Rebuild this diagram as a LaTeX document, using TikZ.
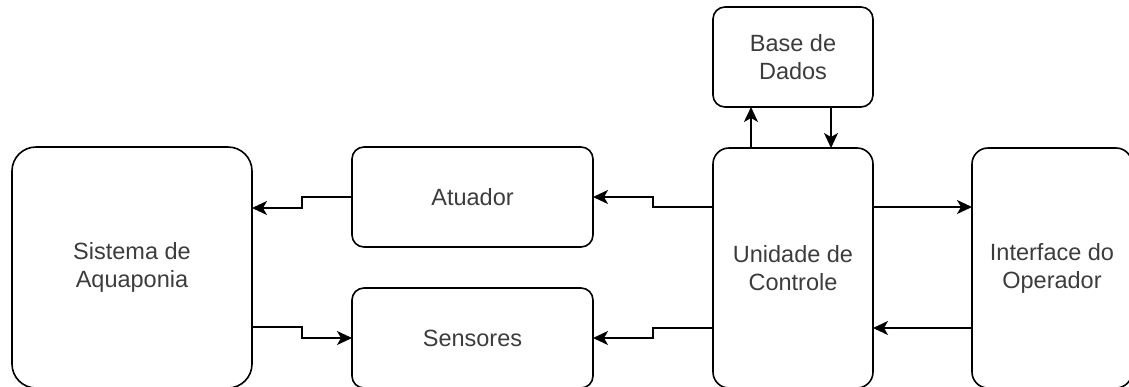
\documentclass[tikz,border=0pt]{standalone}
\usepackage{fontspec}
\setmainfont{Liberation Sans}
\usetikzlibrary{arrows.meta}
\definecolor{txt}{HTML}{3C3C3C}
\begin{document}
\begin{tikzpicture}[x=1pt,y=-1pt,
  blk/.style={draw, line width=1.6pt, inner sep=0pt, outer sep=0pt, align=center,
    font=\fontsize{23.5}{28}\selectfont, text=txt},
  arr/.style={line width=1.6pt, -{Stealth[length=15pt,width=14pt,inset=4pt]}}]
\useasboundingbox (0,0) rectangle (1129,386);
\clip (0,0) rectangle (1129,386);
\node[blk, rounded corners=24pt, minimum width=240pt, minimum height=241pt] (sis) at (132,267.5) {Sistema de\\Aquaponia};
\node[blk, rounded corners=12pt, minimum width=241pt, minimum height=100pt] (atu) at (472.5,197) {Atuador};
\node[blk, rounded corners=12pt, minimum width=241pt, minimum height=100pt] (sen) at (472.5,338) {Sensores};
\node[blk, rounded corners=16pt, minimum width=160pt, minimum height=240pt] (uni) at (793,268) {Unidade de\\Controle};
\node[blk, rounded corners=12pt, minimum width=160pt, minimum height=100pt] (bas) at (793,57) {Base de\\Dados};
\node[blk, rounded corners=16pt, minimum width=160pt, minimum height=240pt] (int) at (1052,268) {Interface do\\Operador};
\draw[arr] (atu.west) -- ++(-50,0) |- ([yshift=59.5pt]sis.east);
\draw[arr] ([yshift=-59.5pt]sis.east) -- ++(50,0) |- (sen.west);
\draw[arr] ([yshift=61pt]uni.west) -- ++(-60,0) |- (atu.east);
\draw[arr] ([yshift=-60pt]uni.west) -- ++(-60,0) |- (sen.east);
\draw[arr] ([yshift=61pt]uni.east) -- ([yshift=61pt]int.west);
\draw[arr] ([yshift=-60pt]int.west) -- ([yshift=-60pt]uni.east);
\draw[arr] ([xshift=-42pt]uni.north) -- ([xshift=-42pt]bas.south);
\draw[arr] ([xshift=38pt]bas.south) -- ([xshift=38pt]uni.north);
\end{tikzpicture}
\end{document}
